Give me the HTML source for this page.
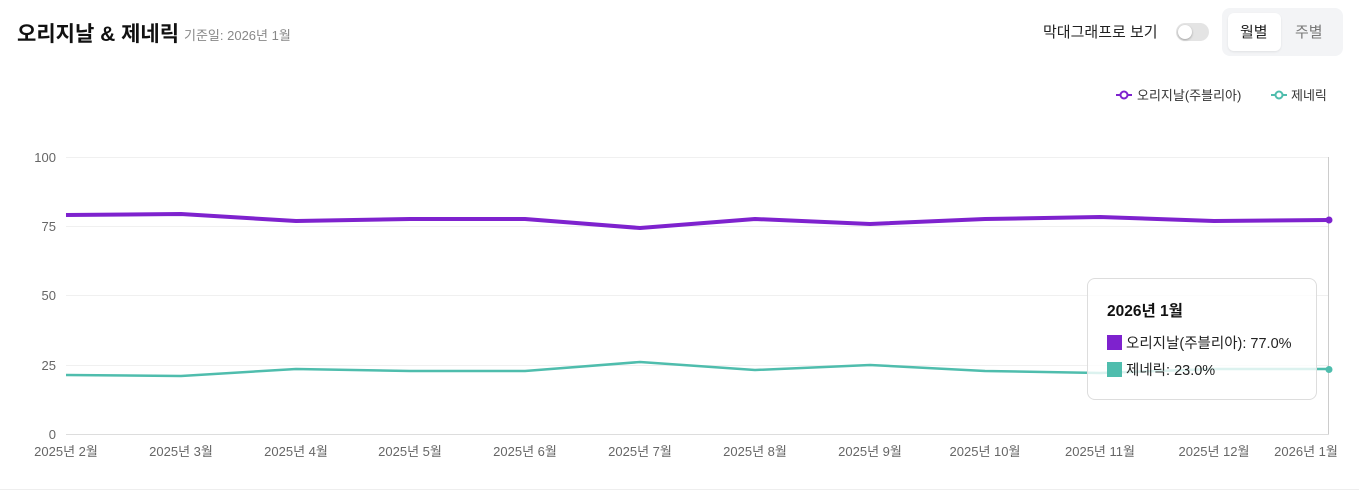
<!DOCTYPE html>
<html><head><meta charset="utf-8"><style>
body{margin:0;width:1359px;height:504px;background:#fff;font-family:"Liberation Sans","Noto Sans CJK KR",sans-serif;position:relative;overflow:hidden}
.a{position:absolute;white-space:nowrap}
</style></head><body>
<div class="a" style="left:17px;top:18px;font-size:21px;font-weight:bold;color:#111">오리지날 &amp; 제네릭</div>
<div class="a" style="left:184px;top:25px;font-size:13px;color:#888">기준일: 2026년 1월</div>
<div class="a" style="left:1043px;top:21px;font-size:15px;color:#222">막대그래프로 보기</div>
<div class="a" style="left:1176px;top:23px;width:33px;height:18px;border-radius:9px;background:#e4e4e4"></div>
<div class="a" style="left:1178px;top:25px;width:14px;height:14px;border-radius:7px;background:#fff;box-shadow:0 1px 2px rgba(0,0,0,.3)"></div>
<div class="a" style="left:1222px;top:8px;width:121px;height:48px;border-radius:8px;background:#f3f4f6"></div>
<div class="a" style="left:1228px;top:13px;width:53px;height:38px;border-radius:6px;background:#fff;box-shadow:0 1px 2px rgba(0,0,0,.08)"></div>
<div class="a" style="left:1240px;top:21px;font-size:15px;color:#222">월별</div>
<div class="a" style="left:1295px;top:21px;font-size:15px;color:#777">주별</div>
<svg class="a" style="left:0;top:0" width="1359" height="504">
<g stroke="#f0f0f0" stroke-width="1">
<line x1="66" x2="1329" y1="157.5" y2="157.5"/><line x1="66" x2="1329" y1="226.5" y2="226.5"/><line x1="66" x2="1329" y1="295.5" y2="295.5"/><line x1="66" x2="1329" y1="365.5" y2="365.5"/>
</g>
<line x1="66" x2="1329" y1="434.5" y2="434.5" stroke="#ddd"/>
<line x1="1328.5" x2="1328.5" y1="157" y2="434" stroke="#ccc"/>
<line x1="0" x2="1359" y1="489.5" y2="489.5" stroke="#eee"/>
<g font-size="13" fill="#666" text-anchor="end">
<text x="56" y="162">100</text><text x="56" y="231">75</text><text x="56" y="300">50</text><text x="56" y="370">25</text><text x="56" y="439">0</text>
</g>
<g font-size="13" fill="#666" text-anchor="middle">
<text x="66" y="456">2025년 2월</text><text x="181" y="456">2025년 3월</text><text x="296" y="456">2025년 4월</text><text x="410" y="456">2025년 5월</text><text x="525" y="456">2025년 6월</text><text x="640" y="456">2025년 7월</text><text x="755" y="456">2025년 8월</text><text x="870" y="456">2025년 9월</text><text x="985" y="456">2025년 10월</text><text x="1100" y="456">2025년 11월</text><text x="1214" y="456">2025년 12월</text><text x="1306" y="456">2026년 1월</text>
</g>
<polyline fill="none" stroke="#7e22ce" stroke-width="4" stroke-linejoin="round" points="66,215 181,214 296,221 410,219 525,219 640,228 755,219 870,224 985,219 1100,217 1214,221 1329,220"/>
<polyline fill="none" stroke="#4fbdad" stroke-width="2.5" stroke-linejoin="round" points="66,375 181,376 296,369 410,371 525,371 640,362 755,370 870,365 985,371 1100,373 1214,369 1329,369"/>
<circle cx="1329" cy="220" r="3.5" fill="#7e22ce"/>
<circle cx="1329" cy="369.5" r="3.5" fill="#4fbdad"/>
<g font-size="13" fill="#333">
<line x1="1116" x2="1132" y1="95" y2="95" stroke="#7e22ce" stroke-width="2"/><circle cx="1124" cy="95" r="3.5" fill="#fff" stroke="#7e22ce" stroke-width="2"/>
<text x="1137" y="100">오리지날(주블리아)</text>
<line x1="1271" x2="1287" y1="95" y2="95" stroke="#4fbdad" stroke-width="2"/><circle cx="1279" cy="95" r="3.5" fill="#fff" stroke="#4fbdad" stroke-width="2"/>
<text x="1291" y="100">제네릭</text>
</g>
</svg>
<div class="a" style="left:1087px;top:278px;width:228px;height:120px;border:1px solid #ddd;border-radius:8px;background:rgba(255,255,255,.8)"></div>
<div class="a" style="left:1107px;top:299px;font-size:15.5px;font-weight:bold;color:#111">2026년 1월</div>
<div class="a" style="left:1107px;top:335px;width:15px;height:15px;background:#7e22ce"></div>
<div class="a" style="left:1126px;top:332px;font-size:14.5px;color:#222">오리지날(주블리아): 77.0%</div>
<div class="a" style="left:1107px;top:362px;width:15px;height:15px;background:#4fbdad"></div>
<div class="a" style="left:1126px;top:359px;font-size:14.5px;color:#222">제네릭: 23.0%</div>
</body></html>
